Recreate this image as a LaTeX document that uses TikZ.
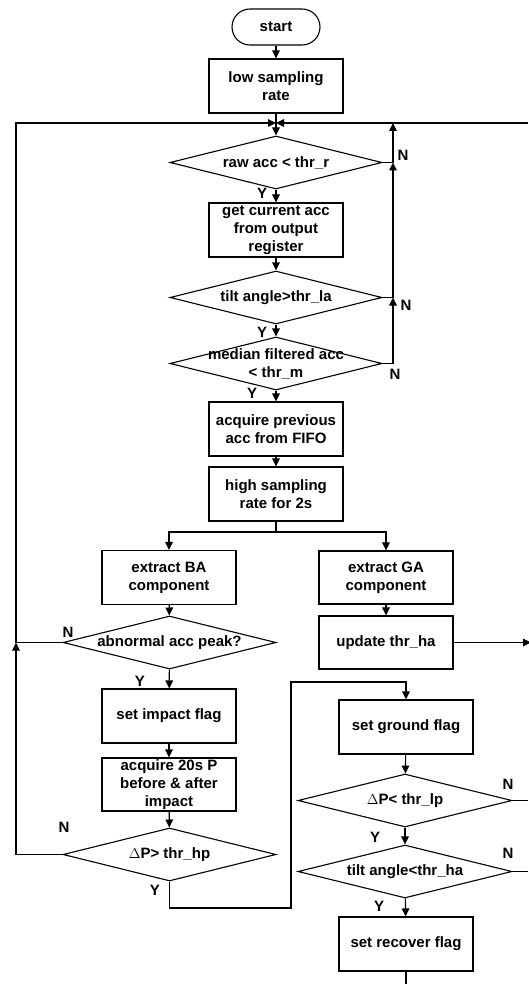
\documentclass[tikz,border=0pt]{standalone}
\usepackage{fontspec}
\setmainfont{Liberation Sans}
\usetikzlibrary{arrows.meta,shapes.geometric}
\begin{document}
\begin{tikzpicture}[x=1pt,y=-1pt,
  line width=1.1pt,
  every node/.style={font=\fontsize{15}{18}\selectfont\bfseries},
  box/.style={draw,rectangle,minimum width=134pt,minimum height=54pt,inner sep=0pt,align=center},
  term/.style={draw,rectangle,rounded corners=18pt,minimum width=88pt,minimum height=36pt,inner sep=0pt},
  dia/.style={draw,diamond,minimum width=212pt,minimum height=53pt,inner sep=0pt},
  arr/.style={-{Triangle[length=8pt,width=7.5pt]}},
  lab/.style={inner sep=0pt}
]
\useasboundingbox (0,0) rectangle (528,984);

% main column
\node[term] (start) at (276,27) {start};
\node[box] (low) at (276,86) {low sampling\\rate};
\node[dia,label={[align=center]center:raw acc < thr\_r}] (raw) at (276,162.5) {};
\node[box] (get) at (276,230) {get current acc\\from output\\register};
\node[dia,label={[align=center]center:tilt angle>thr\_la}] (tilt) at (276,297.5) {};
\node[dia,label={[align=center]center:median filtered acc\\< thr\_m}] (median) at (276,363.5) {};
\node[box] (prev) at (276,429) {acquire previous\\acc from FIFO};
\node[box] (high) at (276,494) {high sampling\\rate for 2s};

% left branch
\node[box] (ba) at (169,577.5) {extract BA\\component};
\node[dia,minimum width=213pt,label={[align=center]center:abnormal acc peak?}] (abn) at (169.5,642.5) {};
\node[box] (impact) at (169,716) {set impact flag};
\node[box,minimum height=53pt] (acq) at (169,784.5) {acquire 20s P\\before \& after\\impact};
\node[dia,minimum width=213pt,label={[align=center]center:$\Delta$P> thr\_hp}] (dphp) at (169.5,854.5) {};

% right branch
\node[box,minimum height=53pt] (ga) at (386,577.5) {extract GA\\component};
\node[box,minimum height=53pt] (upd) at (386,642.5) {update thr\_ha};
\node[box] (ground) at (406,727) {set ground flag};
\node[dia,minimum width=214pt,label={[align=center]center:$\Delta$P< thr\_lp}] (dplp) at (405,800.5) {};
\node[dia,minimum width=214pt,label={[align=center]center:tilt angle<thr\_ha}] (tiltha) at (405,871.5) {};
\node[box] (recover) at (406,944) {set recover flag};

% helper coordinates
\coordinate (junc) at (276,123);
\coordinate (ltop) at (16,123);
\coordinate (lmid) at (16,642.5);
\coordinate (rtop) at (528,123);
\coordinate (rx1) at (393,123);
\coordinate (split) at (276,532);
\coordinate (updr) at (531,642.5);
\coordinate (zz1) at (291,908);
\coordinate (zz2) at (291,682);
\coordinate (lpr) at (528,800.5);
\coordinate (har) at (528,871.5);
\coordinate (recb) at (406,984);

% main flow
\draw[arr] (start) -- (low);
\draw[arr] (low) -- (raw);
\draw[arr] (raw) -- (get);
\draw[arr] (get) -- (tilt);
\draw[arr] (tilt) -- (median);
\draw[arr] (median) -- (prev);
\draw[arr] (prev) -- (high);
\draw (high.south) -- (split);
\draw[arr] (split) -| (ba.north);
\draw[arr] (split) -| (ga.north);
\draw[arr] (ba) -- (abn);
\draw[arr] (ga) -- (upd);
\draw[arr] (abn) -- (impact);
\draw[arr] (impact) -- (acq);
\draw[arr] (acq) -- (dphp);
\draw[arr] (ground) -- (dplp);
\draw[arr] (dplp) -- (tiltha);
\draw[arr] (tiltha) -- (recover);
\draw (recover.south) -- (recb);

% N loops on the right of the top column
\draw[arr] (raw.east) -- (raw.east -| rx1) -- (rx1);
\draw[arr] (tilt.east) -- (tilt.east -| rx1) -- (raw.east -| rx1);
\draw[arr] (median.east) -- (median.east -| rx1) -- (tilt.east -| rx1);

% left loop
\draw[arr] (dphp.west) -| (lmid);
\draw[arr] (abn.west) -- (lmid) -- (ltop) -- (junc);
\draw[arr] (rtop) -- (junc);

% Y of dP>thr_hp to ground flag
\draw[arr] (dphp.south) |- (zz1) -- (zz2) -| (ground.north);

% right exits
\draw[arr] (upd.east) -- (updr);
\draw (dplp.east) -- (lpr);
\draw (tiltha.east) -- (har);

% labels
\node[lab] at (403,155) {N};
\node[lab] at (262,193) {Y};
\node[lab] at (406,305) {N};
\node[lab] at (262,332) {Y};
\node[lab] at (395,374) {N};
\node[lab] at (252,393) {Y};
\node[lab] at (68,632) {N};
\node[lab] at (140,681) {Y};
\node[lab] at (64,827) {N};
\node[lab] at (155,890) {Y};
\node[lab] at (508,784) {N};
\node[lab] at (375,837) {Y};
\node[lab] at (508,853) {N};
\node[lab] at (379,906) {Y};
\end{tikzpicture}
\end{document}
